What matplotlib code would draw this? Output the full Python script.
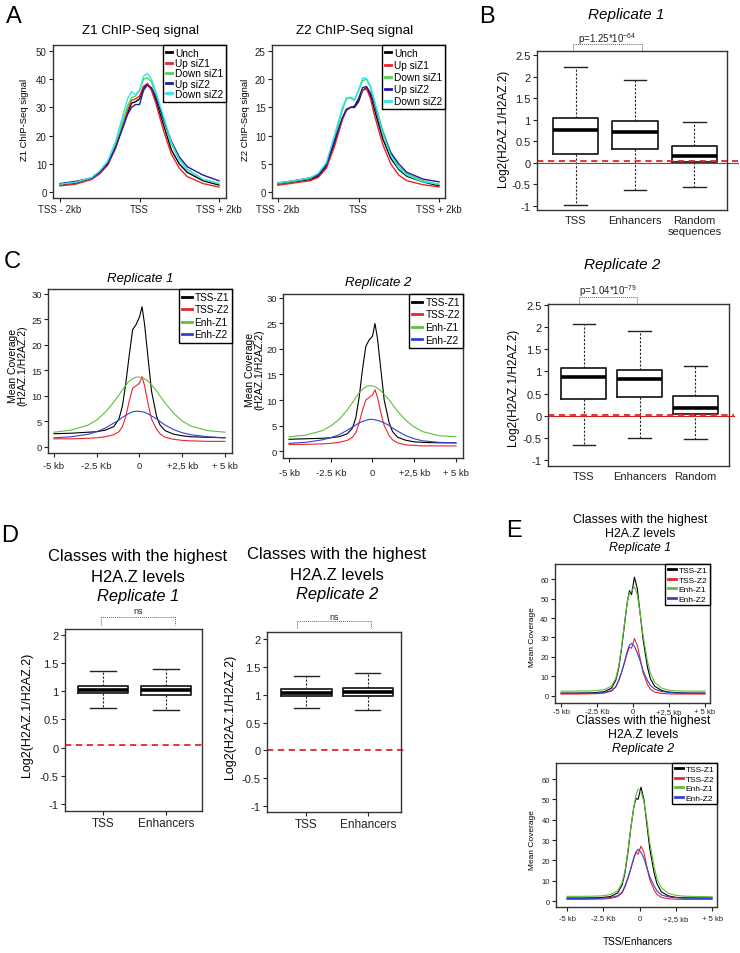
import numpy as np
import matplotlib.pyplot as plt
from matplotlib.lines import Line2D

plt.rcParams['font.family'] = ['Liberation Sans', 'DejaVu Sans']
plt.rcParams['mathtext.default'] = 'regular'

# ---------------- Panel A: ChIP-Seq profiles around TSS ----------------
a_x = [-2000, -1600, -1200, -1000, -800, -600, -400, -300, -200, -100, 0,
       100, 200, 300, 400, 600, 800, 1000, 1200, 1600, 2000]
a_names = ['Unch', 'Up siZ1', 'Down siZ1', 'Up siZ2', 'Down siZ2']
a_colors = ['black', '#e8262b', '#4fd44f', '#1c1ca8', '#2ee6e6']

z1_unch = [2.5, 3.2, 4.8, 6.8, 10, 16, 24, 28, 31.5, 32, 33, 37, 38, 36.5, 33, 24, 15, 10, 7, 4, 2.5]
z1_up_z1 = [2.2, 2.8, 4.5, 6.5, 9.5, 15.5, 24.5, 29, 32.5, 33, 34, 37.5, 38.5, 36, 32, 22, 13.5, 8.5, 5.5, 3, 1.8]
z1_down_z1 = [2.8, 3.5, 5, 7.2, 10.5, 17, 26, 30.5, 33.5, 34, 36, 40, 40.5, 39, 35, 26, 17, 11.5, 8, 4.5, 3]
z1_up_z2 = [3, 3.8, 5, 7, 10, 16, 23.5, 27.5, 30, 31, 31, 36, 38, 37, 34, 26, 18, 12.5, 9, 6, 4]
z1_down_z2 = [2.8, 3.5, 5.2, 7.5, 11, 18, 28, 33, 35.5, 34.5, 36, 41, 42, 40, 36, 27, 17.5, 11.5, 8, 4.5, 3]

z2_unch = [1.4, 1.8, 2.2, 2.8, 4.5, 8.5, 13, 14.5, 15, 15, 16, 18, 18.5, 17, 14.5, 9.5, 6, 4, 2.8, 1.8, 1.1]
z2_up_z1 = [1.2, 1.6, 2.0, 2.6, 4.2, 8, 12.8, 14.5, 15, 15.2, 16.5, 18, 18.3, 16.5, 13.5, 8.5, 5, 3, 2, 1.3, 0.9]
z2_down_z1 = [1.5, 1.9, 2.4, 3.2, 5, 9.5, 14.5, 16.5, 16.8, 16.4, 18, 19.7, 20, 18.5, 16, 11, 7, 4.5, 3.2, 2, 1.3]
z2_up_z2 = [1.6, 2.0, 2.5, 3.0, 4.8, 9, 13.2, 14.7, 15, 15.2, 16.5, 18.5, 18.7, 17.5, 15.5, 10.5, 7, 5, 3.5, 2.3, 1.8]
z2_down_z2 = [1.6, 2.0, 2.5, 3.3, 5.2, 10, 15, 16.7, 16.6, 16.2, 18, 20.2, 20.1, 18.7, 16, 10.5, 6.5, 4.2, 3, 1.8, 1.4]

# ---------------- Panel B: log2 ratio boxplots ----------------
b1_cats = ['TSS', 'Enhancers', 'Random\nsequences']
b1_lo = [-0.98, -0.63, -0.57]
b1_q1 = [0.20, 0.32, 0.02]
b1_med = [0.76, 0.71, 0.15]
b1_q3 = [1.04, 0.97, 0.38]
b1_hi = [2.22, 1.92, 0.95]

b2_cats = ['TSS', 'Enhancers', 'Random']
b2_lo = [-0.65, -0.50, -0.52]
b2_q1 = [0.37, 0.42, 0.04]
b2_med = [0.87, 0.82, 0.17]
b2_q3 = [1.07, 1.03, 0.45]
b2_hi = [2.07, 1.92, 1.13]

# ---------------- Panel C: mean coverage profiles ----------------
c_x = [-5, -4, -3, -2.5, -2, -1.5, -1.2, -1, -0.8, -0.6, -0.4, -0.2, 0, 0.15,
       0.3, 0.5, 0.7, 1, 1.2, 1.5, 2, 2.5, 3, 4, 5]
c_names = ['TSS-Z1', 'TSS-Z2', 'Enh-Z1', 'Enh-Z2']
c_colors = ['black', '#e8262b', '#5fbf3a', '#3344cc']

c1_tss_z1 = [2.6, 2.7, 2.9, 3.0, 3.3, 4.0, 5.5, 8, 12.5, 18, 23, 24, 25.5, 27.5, 24, 17.5, 11, 6, 4.3, 3.2, 2.5, 2.2, 2.0, 1.9, 1.8]
c1_tss_z2 = [1.6, 1.6, 1.7, 1.8, 2.0, 2.4, 3.0, 4.0, 6, 9, 11.5, 12, 12.5, 13.8, 12, 8.5, 5.5, 3.5, 2.6, 1.9, 1.5, 1.3, 1.2, 1.1, 1.1]
c1_enh_z1 = [2.9, 3.3, 4.3, 5.3, 6.8, 8.8, 10.2, 11.2, 12.1, 12.9, 13.4, 13.7, 13.7, 13.6, 13.4, 12.9, 12.2, 11, 10, 8.6, 6.6, 5.1, 4.1, 3.2, 2.9]
c1_enh_z2 = [1.8, 2.0, 2.5, 3.0, 3.7, 4.7, 5.3, 5.8, 6.2, 6.6, 6.9, 7.0, 7.0, 6.9, 6.8, 6.5, 6.1, 5.5, 5.0, 4.3, 3.4, 2.8, 2.4, 2.0, 1.8]

c2_tss_z1 = [2.3, 2.4, 2.5, 2.6, 2.8, 3.4, 4.5, 6.5, 10.5, 16, 20.5, 21.8, 22.5, 25, 22, 16, 10, 5.5, 3.8, 2.7, 2.1, 1.8, 1.7, 1.6, 1.6]
c2_tss_z2 = [1.3, 1.3, 1.4, 1.5, 1.7, 2.1, 2.7, 3.6, 5.5, 8, 10, 10.5, 11, 12, 10.5, 7.5, 5, 3, 2.2, 1.6, 1.2, 1.1, 1.0, 1.0, 1.0]
c2_enh_z1 = [2.8, 3.1, 4.0, 4.9, 6.2, 8.1, 9.5, 10.5, 11.4, 12.1, 12.6, 12.8, 12.8, 12.6, 12.3, 11.8, 11.1, 10, 9.1, 7.8, 6, 4.7, 3.8, 3.0, 2.8]
c2_enh_z2 = [1.5, 1.7, 2.2, 2.6, 3.2, 4.1, 4.7, 5.1, 5.5, 5.8, 6.0, 6.2, 6.2, 6.1, 6.0, 5.8, 5.5, 5.0, 4.5, 3.9, 3.0, 2.4, 2.0, 1.7, 1.6]

c_ticks = [-5, -2.5, 0, 2.5, 5]
c_ticklabels = ['-5 kb', '-2.5 Kb', '0', '+2,5 kb', '+ 5 kb']

# ---------------- Panel D: highest H2A.Z classes ----------------
d_cats = ['TSS', 'Enhancers']
d1_lo = [0.71, 0.66]
d1_q1 = [0.97, 0.94]
d1_med = [1.02, 1.02]
d1_q3 = [1.10, 1.10]
d1_hi = [1.35, 1.40]

d2_lo = [0.77, 0.72]
d2_q1 = [0.98, 0.98]
d2_med = [1.04, 1.05]
d2_q3 = [1.11, 1.13]
d2_hi = [1.33, 1.39]

# ---------------- Panel E: highest classes profiles ----------------
e_x = [-5, -4, -3, -2.5, -2, -1.5, -1.2, -1, -0.8, -0.6, -0.4, -0.25, -0.1,
       0.1, 0.3, 0.5, 0.7, 1, 1.2, 1.5, 2, 2.5, 3, 4, 5]
e1_tss_z1 = [1.5, 1.5, 1.6, 1.8, 2.2, 4, 8, 14, 24, 36, 48, 54, 52, 61, 55, 42, 29, 15, 9, 5, 2.8, 2, 1.7, 1.5, 1.5]
e1_tss_z2 = [1, 1, 1.1, 1.2, 1.5, 2.5, 4.5, 7.5, 12, 17, 22, 25, 24.5, 29.5, 26, 19, 12, 6, 3.5, 2, 1.3, 1.1, 1, 1, 1]
e1_enh_z1 = [2.5, 2.5, 2.6, 2.8, 3.3, 5, 9, 15, 25, 37, 48, 53, 54, 56, 52, 42, 31, 18, 12, 7, 4, 3, 2.6, 2.5, 2.5]
e1_enh_z2 = [1.3, 1.3, 1.4, 1.5, 1.8, 2.8, 4.8, 8, 12, 17, 23, 26, 27, 25.5, 22, 18, 13, 8, 5.5, 3.5, 2.3, 1.8, 1.5, 1.4, 1.3]

e2_tss_z1 = [1.5, 1.5, 1.6, 1.8, 2.2, 4, 8, 14, 24, 36, 46, 50.5, 50, 56, 50, 38, 26, 14, 8.5, 4.5, 2.5, 1.8, 1.6, 1.5, 1.5]
e2_tss_z2 = [0.8, 0.8, 0.9, 1, 1.3, 2.2, 4, 7, 11, 16, 21, 24, 23, 27, 24, 17, 10.5, 5.5, 3.2, 1.8, 1.1, 0.9, 0.8, 0.8, 0.8]
e2_enh_z1 = [2.3, 2.3, 2.4, 2.6, 3.2, 5, 9, 15, 25, 36, 46, 52, 55, 54, 49, 40, 29, 17, 11, 6.5, 3.8, 2.8, 2.4, 2.2, 2.1]
e2_enh_z2 = [1.2, 1.2, 1.3, 1.4, 1.7, 2.6, 4.5, 7.5, 11.5, 16, 21, 24, 25.5, 24, 21, 16.5, 12, 7.5, 5, 3, 2, 1.6, 1.4, 1.3, 1.2]

W, H = 740, 954
fig = plt.figure(figsize=(W / 100, H / 100), dpi=100)


def axes_px(l, t, r, b):
    ax = fig.add_axes([l / W, 1 - b / H, (r - l) / W, (b - t) / H])
    ax.ax_h = b - t
    return ax


def text_px(x, y, s, **kw):
    kw.setdefault('ha', 'center')
    kw.setdefault('va', 'center')
    return fig.text(x / W, 1 - y / H, s, **kw)


def frame(ax, tick_fs, pad=1.5):
    for s in ax.spines.values():
        s.set_color('#333333')
        s.set_linewidth(1.0)
    ax.tick_params(direction='out', length=3, width=0.8, labelsize=tick_fs,
                   pad=pad, colors='#222222')


def profile(ax, x, ys, colors, names, xlim, ylim, yticks, xticks, xlabels,
            lw, tick_fs, leg_fs, leg_space, xpad, xtick_fs=None, hlen=0.6):
    for y, c, n in zip(ys, colors, names):
        ax.plot(x, y, color=c, lw=lw)
    ax.set_xlim(xlim)
    ax.set_ylim(ylim)
    ax.set_yticks(yticks)
    ax.set_yticklabels([str(t) for t in yticks])
    ax.set_xticks(xticks)
    ax.set_xticklabels(xlabels)
    frame(ax, tick_fs)
    ax.tick_params(axis='x', pad=xpad, labelsize=xtick_fs or tick_fs)
    handles = [Line2D([], [], color=c, lw=2) for c in colors]
    leg = ax.legend(handles, names, loc='upper right', bbox_to_anchor=(1, 1),
                    borderaxespad=0, fontsize=leg_fs, fancybox=False,
                    edgecolor='black', handlelength=hlen, handletextpad=0.3,
                    labelspacing=leg_space, borderpad=0.3, framealpha=1)
    leg.get_frame().set_linewidth(1.0)


def boxes(ax, lo, q1, med, q3, hi, cats, xlim, ylim, yticks, width,
          tick_fs, xlab_fs, xpad, xticklen):
    stats = [dict(whislo=a, q1=b, med=c, q3=d, whishi=e, label=n)
             for a, b, c, d, e, n in zip(lo, q1, med, q3, hi, cats)]
    pos = list(range(1, len(cats) + 1))
    ax.bxp(stats, positions=pos, widths=width, showfliers=False,
           boxprops=dict(color='#222222', lw=1.3),
           medianprops=dict(color='black', lw=2.6),
           whiskerprops=dict(color='#222222', lw=0.8, ls=(0, (2, 1.5))),
           capprops=dict(color='#222222', lw=1.0))
    ax.set_xlim(xlim)
    ax.set_ylim(ylim)
    ax.set_yticks(yticks)
    ax.set_yticklabels([('%g' % t) for t in yticks])
    frame(ax, tick_fs)
    ax.tick_params(axis='x', length=xticklen, labelsize=xlab_fs, pad=xpad)


def red_lines(ax, y_dash, right, y_solid=None):
    tr = ax.get_yaxis_transform()
    if y_solid is not None:
        ax.plot([0, right], [y_solid, y_solid], transform=tr, color='#d42020',
                lw=0.8, clip_on=False)
    ax.plot([0, right], [y_dash, y_dash], transform=tr, color='#e02828',
            lw=1.3, ls=(0, (3.5, 2.5)), clip_on=False)


def bracket(ax, x0, x1, drop, gap, up, label, fs):
    tr = ax.get_xaxis_transform()
    y1 = 1 + drop / ax.ax_h
    y0 = 1 + gap / ax.ax_h
    ax.plot([x0, x0, x1, x1], [y0, y1, y1, y0], transform=tr, clip_on=False,
            color='#666666', lw=0.7, ls=(0, (1, 1)))
    ax.text((x0 + x1) / 2, 1 + up / ax.ax_h, label, transform=tr,
            ha='center', va='center', fontsize=fs, color='#222222')


# ---- A ----
axA1 = axes_px(53, 46, 226, 199)
profile(axA1, a_x, [z1_unch, z1_up_z1, z1_down_z1, z1_up_z2, z1_down_z2],
        a_colors, a_names, (-2176, 2176), (-2.1, 52.1), [0, 10, 20, 30, 40, 50],
        [-2000, 0, 2000], ['TSS - 2kb', 'TSS', 'TSS + 2kb'], 1.0, 7, 7.3, 0.02, 1.5, 7)
axA2 = axes_px(272, 46, 445, 199)
profile(axA2, a_x, [z2_unch, z2_up_z1, z2_down_z1, z2_up_z2, z2_down_z2],
        a_colors, a_names, (-2149, 2149), (-1.06, 26.06), [0, 5, 10, 15, 20, 25],
        [-2000, 0, 2000], ['TSS - 2kb', 'TSS', 'TSS + 2kb'], 1.0, 7, 7.3, 0.2, 1.5, 7)
text_px(141, 31, 'Z1 ChIP-Seq signal', fontsize=9.7)
text_px(355, 31, 'Z2 ChIP-Seq signal', fontsize=9.7)
text_px(25, 120, 'Z1 ChIP-Seq signal', fontsize=6.8, rotation=90)
text_px(245, 120, 'Z2 ChIP-Seq signal', fontsize=6.8, rotation=90)

# ---- B ----
axB1 = axes_px(537, 52, 727, 211)
boxes(axB1, b1_lo, b1_q1, b1_med, b1_q3, b1_hi, b1_cats, (0.35, 3.55),
      (-1.093, 2.593), [-1, -0.5, 0, 0.5, 1, 1.5, 2, 2.5], 0.76, 8, 8, 3.5, 0)
red_lines(axB1, 0.04, 1.058, 0.0)
bracket(axB1, 0.95, 2.12, 7, 0, 13, r'p=1.25*10$^{-64}$', 7)
axB2 = axes_px(548, 305, 729, 467)
boxes(axB2, b2_lo, b2_q1, b2_med, b2_q3, b2_hi, b2_cats, (0.36, 3.6),
      (-1.135, 2.523), [-1, -0.5, 0, 0.5, 1, 1.5, 2, 2.5], 0.8, 8, 8, 3.5, 0)
red_lines(axB2, 0.015, 1.025, -0.01)
bracket(axB2, 0.92, 1.95, 7, 0, 14, r'p=1.04*10$^{-79}$', 7)
text_px(626, 15, 'Replicate 1', fontsize=11, style='italic')
text_px(622, 265, 'Replicate 2', fontsize=11, style='italic')
text_px(503, 128, 'Log2(H2AZ.1/H2AZ.2)', fontsize=8.5, rotation=90)
text_px(513, 387, 'Log2(H2AZ.1/H2AZ.2)', fontsize=8.5, rotation=90)

# ---- C ----
axC1 = axes_px(48, 290, 232, 454)
profile(axC1, c_x, [c1_tss_z1, c1_tss_z2, c1_enh_z1, c1_enh_z2], c_colors,
        c_names, (-5.35, 5.41), (-1.18, 30.98), [0, 5, 10, 15, 20, 25, 30],
        c_ticks, c_ticklabels, 0.8, 6.8, 7.2, 0.25, 2.5, hlen=1.0)
axC2 = axes_px(283, 295, 463, 459)
profile(axC2, c_x, [c2_tss_z1, c2_tss_z2, c2_enh_z1, c2_enh_z2], c_colors,
        c_names, (-5.36, 5.42), (-1.37, 30.78), [0, 5, 10, 15, 20, 25, 30],
        c_ticks, c_ticklabels, 0.8, 6.8, 7.2, 0.25, 4, hlen=1.0)
text_px(140, 279, 'Replicate 1', fontsize=9.5, style='italic')
text_px(378, 283, 'Replicate 2', fontsize=9.5, style='italic')
text_px(18, 366, 'Mean Coverage\n(H2AZ.1/H2AZ.2)', fontsize=7.5, rotation=90,
        linespacing=0.95)
text_px(255, 370, 'Mean Coverage\n(H2AZ.1/H2AZ.2)', fontsize=7.5, rotation=90,
        linespacing=0.95)

# ---- D ----
axD1 = axes_px(65, 630, 202, 812)
boxes(axD1, d1_lo, d1_q1, d1_med, d1_q3, d1_hi, d_cats, (0.4, 2.57),
      (-1.12, 2.1), [-1, -0.5, 0, 0.5, 1, 1.5, 2], 0.8, 8, 8.5, 1.5, 3)
red_lines(axD1, 0.04, 1.03)
bracket(axD1, 0.97, 2.15, 12, 4, 18, 'ns', 6.5)
axD2 = axes_px(267, 633, 401, 813)
boxes(axD2, d2_lo, d2_q1, d2_med, d2_q3, d2_hi, d_cats, (0.36, 2.54),
      (-1.11, 2.13), [-1, -0.5, 0, 0.5, 1, 1.5, 2], 0.82, 8, 8.5, 1.5, 3)
red_lines(axD2, 0.0, 1.045)
bracket(axD2, 0.84, 2.05, 11, 4, 16, 'ns', 6.5)
for cx, ys, rep in [(138, (557, 577, 597), 'Replicate 1'),
                    (337, (555, 575, 595), 'Replicate 2')]:
    text_px(cx, ys[0], 'Classes with the highest', fontsize=11.9)
    text_px(cx, ys[1], 'H2A.Z levels', fontsize=11.9)
    text_px(cx, ys[2], rep, fontsize=11.9, style='italic')
text_px(27, 715, 'Log2(H2AZ.1/H2AZ.2)', fontsize=9, rotation=90)
text_px(230, 717, 'Log2(H2AZ.1/H2AZ.2)', fontsize=9, rotation=90)

# ---- E ----
axE1 = axes_px(555, 565, 710, 704)
profile(axE1, e_x, [e1_tss_z1, e1_tss_z2, e1_enh_z1, e1_enh_z2], c_colors,
        c_names, (-5.42, 5.35), (-3.6, 67.7), [0, 10, 20, 30, 40, 50, 60],
        c_ticks, c_ticklabels, 0.8, 5.5, 6, 0.2, 0.8, hlen=1.0)
axE2 = axes_px(556, 764, 717, 908)
profile(axE2, e_x, [e2_tss_z1, e2_tss_z2, e2_enh_z1, e2_enh_z2], c_colors,
        c_names, (-5.76, 5.34), (-2.95, 67.9), [0, 10, 20, 30, 40, 50, 60],
        c_ticks, c_ticklabels, 0.8, 5.5, 6, 0.2, 3, hlen=1.0)
for cx, ys, rep in [(640, (520, 534, 548), 'Replicate 1'),
                    (643, (721, 735, 749), 'Replicate 2')]:
    text_px(cx, ys[0], 'Classes with the highest', fontsize=8.9)
    text_px(cx, ys[1], 'H2A.Z levels', fontsize=8.9)
    text_px(cx, ys[2], rep, fontsize=8.9, style='italic')
text_px(532, 637, 'Mean Coverage', fontsize=6, rotation=90)
text_px(532, 840, 'Mean Coverage', fontsize=6, rotation=90)
text_px(638, 942, 'TSS/Enhancers', fontsize=7.2)

# ---- panel letters ----
for s, x, y in [('A', 14, 17), ('B', 487, 17), ('C', 12, 262),
                ('D', 10, 536), ('E', 514, 531)]:
    text_px(x, y, s, fontsize=17)

fig.savefig('out.png', dpi=100)
